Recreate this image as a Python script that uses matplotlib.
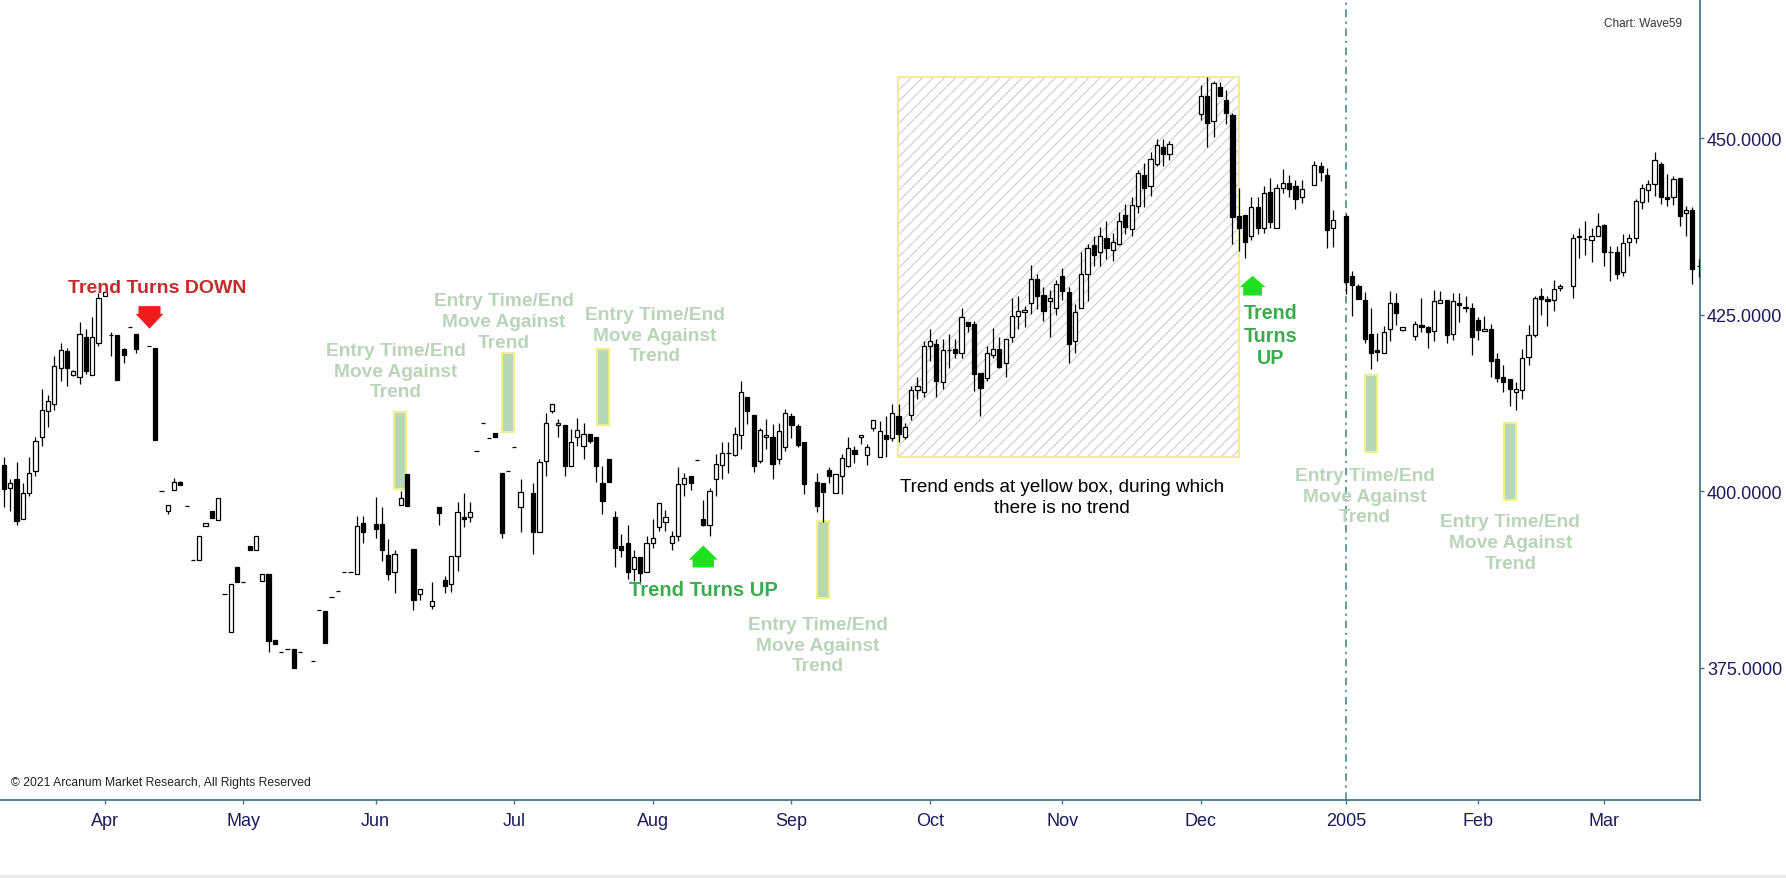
import numpy as np
import pandas as pd
import matplotlib
matplotlib.use('Agg')
import matplotlib.pyplot as plt
from matplotlib.patches import Rectangle, Polygon

plt.rcParams['font.family'] = ['Liberation Sans', 'DejaVu Sans']
plt.rcParams['hatch.linewidth'] = 0.8

# daily bars, one slot per weekday starting here (None = no bar that day)
start_date = '2004-03-10'

opens = [
    403.7, 400.4, 401.7, 396.1, 399.7, 402.8, 407.6, 411.3, 412.4, 417.5,
    419.9, 416.5, 416.1, 421.9, 416.5, 421.0, 427.7, 422.1, 422.1, 420.1,
    423.3, 422.2, None, 420.5, 420.3, 400.0, 397.2, 400.2, 401.3, 397.9,
    390.3, 390.3, 395.1, 397.2, 395.9, 385.5, 380.1, 389.2, 387.2, 392.2,
    391.6, 387.3, 388.2, 378.9, 377.2, 377.6, 377.6, 377.2, None, 376.0,
    383.1, 383.0, 385.0, 385.8, 388.5, 388.5, 388.2, 395.5, None, 395.3,
    395.3, 391.0, 388.5, 398.0, 402.4, 391.8, 385.5, None, 383.7, 397.7,
    387.4, 386.8, 390.8, 396.3, 396.3, 405.7, 409.6, 407.5, 408.3, 402.6,
    402.9, 406.2, 397.7, None, 399.7, 394.2, 404.2, 411.4, 409.3, 409.4,
    403.6, 407.6, 406.4, 408.1, 407.6, 401.2, 404.6, 396.4, 392.2, 392.6,
    389.0, 390.6, 388.5, 392.7, 394.9, 395.6, 392.7, 393.7, 401.0, 402.1,
    404.4, 396.0, 395.2, 401.7, 403.7, 405.4, 405.1, 408.0, 413.4, 410.8,
    404.2, 407.6, 407.7, 404.6, 406.2, 410.6, 409.2, 407.0, None, 401.3,
    401.1, 403.0, 399.8, 402.1, 403.6, 405.8, 407.6, 405.1, 409.0, 404.8,
    408.0, 407.5, 410.7, 407.7, 410.8, 414.3, 414.1, 420.5, 420.9, 415.5,
    420.0, 420.1, 419.6, 424.0, 423.7, 416.7, 416.0, 419.3, 420.2, 418.1,
    421.8, 424.8, 425.3, 426.6, 430.0, 427.8, 426.9, 425.9, 430.5, 428.2,
    421.3, 426.0, 430.7, 434.9, 433.8, 435.9, 434.2, 435.0, 439.1, 437.1,
    440.4, 444.8, 443.2, 446.4, 448.8, 447.8, None, None, None, None,
    453.4, 455.9, 452.4, 457.3, 455.4, 453.3, 438.9, 439.1, 436.2, 440.3,
    437.2, 442.3, 437.2, 443.0, 443.7, 443.2, 441.6, None, 443.4, 446.1,
    444.8, 437.2, None, 438.9, 430.5, 429.1, 427.0, 422.2, 420.0, 419.6,
    423.0, 426.6, 422.8, None, 422.0, 423.5, 423.2, 422.7, 426.7, 427.1,
    422.3, 426.7, 426.1, 426.0, 424.3, 422.7, 422.9, 418.7, 416.1, 415.9,
    414.1, 414.3, 419.0, 422.1, 427.6, 427.2, 427.1, 428.8, None, 429.0,
    436.0, 435.7, 435.5, 436.1, 437.7, 433.8, 433.8, 431.0, 435.3, 435.8,
    440.9, 442.7, 443.5, 446.4, 441.7, 441.7, 444.4, 439.4, 439.8, 431.9,
]

highs = [
    404.8, 401.7, 404.1, 401.1, 404.8, 407.6, 414.4, 413.6, 419.2, 421.0,
    420.3, 417.2, 424.0, 422.9, 424.6, 428.0, 428.2, 422.6, 422.1, 420.3,
    423.3, 422.2, None, 420.5, 420.3, 400.0, 398.0, 401.9, 401.5, 397.9,
    390.3, 393.6, 395.5, 397.2, 399.0, 385.5, 386.8, 389.2, 387.2, 392.2,
    393.6, 388.2, 388.2, 378.9, 377.2, 377.6, 377.6, 377.2, None, 376.0,
    383.1, 383.0, 385.0, 385.8, 388.5, 388.5, 396.5, 396.5, None, 399.1,
    397.7, 393.2, 391.6, 400.0, 402.4, 391.8, 386.1, None, 387.1, 397.7,
    388.0, 390.8, 398.4, 399.7, 398.4, 405.7, 409.6, 407.5, 408.3, 402.6,
    402.9, 406.2, 401.7, None, 401.2, 404.5, 411.1, 412.3, 410.2, 409.4,
    408.8, 410.4, 409.6, 408.1, 407.6, 403.6, 404.6, 397.2, 393.9, 395.2,
    391.6, 390.6, 393.7, 396.0, 398.3, 397.3, 394.4, 403.4, 402.6, 402.1,
    404.4, 398.7, 400.5, 405.2, 406.9, 406.9, 409.1, 415.6, 413.4, 410.8,
    409.0, 410.2, 409.5, 409.7, 411.7, 411.1, 409.5, 407.0, None, 402.5,
    401.1, 403.4, 402.4, 405.3, 407.7, 406.4, 408.0, 406.7, 410.1, 410.0,
    410.6, 412.3, 412.3, 409.7, 414.9, 416.2, 421.3, 423.0, 421.5, 421.5,
    422.2, 421.5, 426.0, 424.0, 424.1, 416.7, 420.5, 423.1, 421.8, 421.6,
    427.3, 427.6, 426.2, 432.0, 430.7, 428.9, 428.5, 429.9, 431.6, 428.9,
    426.5, 433.9, 435.0, 436.2, 437.4, 438.3, 436.6, 439.5, 440.7, 441.6,
    445.5, 446.5, 448.0, 449.9, 449.9, 449.6, None, None, None, None,
    457.5, 458.6, 458.1, 458.0, 456.8, 453.6, 443.0, 439.1, 441.6, 441.6,
    443.2, 444.4, 443.5, 445.6, 444.8, 444.1, 444.1, None, 446.8, 446.6,
    445.7, 439.8, None, 439.2, 431.2, 429.3, 428.2, 425.9, 422.4, 423.4,
    428.3, 428.0, 423.3, None, 424.1, 427.3, 423.4, 428.5, 428.3, 427.1,
    428.1, 428.1, 427.6, 426.6, 424.7, 424.8, 423.6, 419.5, 417.8, 415.9,
    415.4, 420.2, 423.5, 427.7, 428.7, 427.7, 429.9, 429.4, None, 436.4,
    437.3, 438.2, 437.3, 439.4, 437.8, 434.7, 434.7, 436.4, 436.4, 441.4,
    443.5, 444.0, 448.0, 446.6, 444.9, 444.7, 444.4, 440.4, 440.2, 432.9,
]

lows = [
    397.7, 397.2, 395.2, 396.0, 399.3, 402.1, 406.4, 409.1, 411.5, 415.6,
    414.9, 416.3, 415.2, 416.6, 416.5, 420.6, 427.7, 419.2, 415.8, 418.1,
    423.3, 419.6, None, 420.5, 407.3, 400.0, 396.8, 400.2, 400.9, 397.9,
    390.3, 390.3, 395.1, 396.2, 395.9, 385.5, 380.1, 387.2, 387.2, 391.6,
    391.6, 387.3, 377.2, 378.3, 377.2, 377.6, 375.0, 377.2, None, 376.0,
    383.1, 378.5, 385.0, 385.8, 388.5, 388.5, 388.2, 392.7, None, 393.3,
    390.1, 387.4, 385.6, 398.0, 397.9, 383.1, 384.6, None, 383.3, 395.2,
    385.6, 385.7, 388.7, 394.9, 395.6, 405.7, 409.6, 407.5, 407.6, 393.4,
    402.9, 406.2, 394.2, None, 391.1, 394.2, 402.1, 411.0, 407.6, 402.2,
    403.6, 406.4, 404.6, 406.8, 401.3, 396.7, 401.3, 389.2, 390.6, 387.5,
    387.3, 386.8, 388.5, 392.0, 394.4, 394.4, 391.7, 393.0, 399.3, 400.1,
    404.4, 395.1, 393.6, 399.3, 401.7, 402.6, 405.0, 405.9, 409.5, 402.7,
    404.0, 405.9, 401.7, 403.8, 405.7, 407.5, 406.2, 399.6, None, 397.1,
    395.6, 401.2, 399.7, 399.6, 403.4, 404.0, 406.7, 403.7, 408.5, 404.8,
    404.8, 407.1, 406.9, 407.4, 410.1, 413.0, 413.4, 418.5, 413.4, 414.4,
    417.5, 418.8, 418.9, 422.5, 414.2, 410.6, 415.6, 418.8, 417.5, 416.1,
    421.1, 423.0, 423.2, 425.1, 425.8, 424.1, 421.8, 424.9, 427.0, 418.2,
    419.5, 425.9, 426.9, 431.9, 431.9, 432.9, 432.6, 434.8, 436.4, 436.2,
    439.4, 440.2, 441.8, 446.1, 446.1, 446.9, None, None, None, None,
    452.5, 448.7, 450.1, 455.9, 452.0, 435.0, 434.0, 433.0, 435.5, 436.4,
    436.5, 437.2, 437.2, 442.2, 441.6, 439.9, 440.8, None, 443.4, 443.9,
    434.4, 434.6, None, 427.9, 424.8, 427.2, 421.0, 417.3, 418.5, 419.6,
    421.2, 423.5, 422.7, None, 421.4, 422.6, 420.3, 421.3, 426.7, 421.0,
    421.4, 424.0, 425.4, 419.3, 421.4, 422.7, 416.2, 415.5, 414.1, 412.1,
    411.5, 413.1, 417.8, 421.9, 425.0, 423.4, 425.5, 428.3, None, 427.4,
    433.0, 433.4, 432.5, 436.1, 431.9, 429.8, 430.0, 430.5, 433.3, 435.2,
    439.9, 440.9, 441.8, 440.6, 440.4, 440.5, 437.6, 436.1, 429.3, 430.3,
]

closes = [
    400.3, 401.1, 395.7, 399.7, 402.6, 407.1, 411.5, 412.8, 417.7, 420.0,
    417.5, 417.0, 422.2, 417.0, 421.8, 427.3, 428.2, 422.1, 415.8, 419.3,
    423.3, 420.1, None, 420.5, 407.3, 400.0, 398.0, 401.3, 400.9, 397.9,
    390.3, 393.6, 395.5, 396.2, 399.0, 385.5, 386.8, 387.2, 387.2, 391.6,
    393.6, 388.2, 378.8, 378.3, 377.2, 377.6, 375.0, 377.2, None, 376.0,
    383.1, 378.5, 385.0, 385.8, 388.5, 388.5, 395.0, 394.2, None, 394.7,
    391.7, 388.2, 391.1, 399.0, 397.9, 384.6, 386.1, None, 384.4, 396.9,
    386.6, 390.8, 397.1, 396.0, 397.0, 405.7, 409.6, 407.5, 407.6, 394.1,
    402.9, 406.2, 399.9, None, 394.2, 404.1, 409.6, 412.3, 409.7, 403.6,
    407.0, 408.7, 408.1, 407.1, 403.5, 398.6, 401.3, 391.9, 391.7, 388.5,
    390.6, 388.4, 392.6, 393.3, 398.3, 396.4, 393.6, 401.0, 401.8, 401.1,
    404.4, 395.2, 400.0, 403.9, 405.4, 405.4, 408.1, 414.1, 411.4, 403.6,
    408.6, 408.0, 403.8, 408.5, 411.0, 409.4, 406.5, 401.0, None, 397.9,
    399.9, 402.1, 402.4, 404.7, 406.1, 405.3, 408.0, 406.2, 410.1, 408.5,
    407.4, 411.1, 408.1, 409.1, 414.3, 414.9, 420.5, 421.2, 415.6, 420.0,
    420.0, 419.5, 424.6, 423.4, 416.6, 414.6, 419.5, 420.2, 417.6, 421.6,
    424.8, 425.5, 425.6, 430.0, 427.6, 425.5, 427.4, 429.4, 428.3, 420.9,
    425.4, 430.7, 434.4, 433.4, 436.2, 434.5, 435.3, 438.3, 437.4, 440.5,
    445.1, 442.9, 447.0, 449.0, 447.8, 449.2, None, None, None, None,
    455.9, 452.2, 457.8, 455.9, 453.6, 438.8, 437.2, 435.3, 440.3, 437.2,
    442.2, 438.1, 442.9, 443.6, 442.8, 441.4, 442.8, None, 446.2, 445.2,
    437.0, 438.4, None, 429.6, 429.2, 427.2, 421.6, 419.5, 419.7, 422.5,
    426.6, 425.2, 423.3, None, 423.6, 423.3, 422.6, 426.9, 427.1, 422.1,
    426.9, 426.3, 425.9, 421.9, 422.8, 423.0, 418.5, 416.0, 415.5, 414.4,
    414.5, 418.8, 422.1, 427.3, 427.2, 426.9, 428.6, 429.0, None, 435.8,
    436.1, 435.7, 436.1, 437.6, 433.9, 433.8, 430.8, 435.1, 435.8, 441.1,
    442.9, 443.5, 446.9, 441.6, 441.4, 444.2, 439.0, 439.8, 431.4, 431.9,
]

y_ticks = [375, 400, 425, 450]

# annotation boxes: (bar index centre, low, high)
entry_boxes = [(62.9, 400.3, 411.2), (80.0, 408.4, 419.5), (95.1, 409.3, 420.2),
               (130.0, 384.8, 395.8), (217.0, 405.6, 416.4), (239.0, 398.7, 409.7)]
entry_labels = [(62.2, 417.0), (79.3, 424.0), (103.3, 422.1),
                (129.2, 378.2), (216.0, 399.3), (239.1, 392.7)]

o = np.array(opens, dtype=float)
h = np.array(highs, dtype=float)
l = np.array(lows, dtype=float)
c = np.array(closes, dtype=float)
n = len(o)
x = np.arange(n)
dates = pd.bdate_range(start_date, periods=n)

navy = '#1b1b5e'
spine_col = '#46788a'

fig = plt.figure(figsize=(17.86, 8.79), dpi=100)
ax = fig.add_axes([0, 0.0891, 0.9518, 0.9109])

ok = ~np.isnan(o)
up = ok & (c >= o)
dn = ok & (c < o)
ax.vlines(x[ok], l[ok], h[ok], color='black', linewidth=0.9, zorder=3)
ax.bar(x[up], (c - o)[up], bottom=o[up], width=0.66, facecolor='white',
       edgecolor='black', linewidth=0.9, zorder=4)
ax.bar(x[dn], (o - c)[dn], bottom=c[dn], width=0.66, facecolor='black',
       edgecolor='black', linewidth=0.9, zorder=4)

# yellow "no trend" box
bx0, bx1, blo, bhi = 141.95, 196.1, 404.8, 458.6
ax.add_patch(Rectangle((bx0, blo), bx1 - bx0, bhi - blo, facecolor='white',
                       edgecolor='#cdcdcd', hatch='///', linewidth=0, zorder=1))
ax.add_patch(Rectangle((bx0, blo), bx1 - bx0, bhi - blo, fill=False,
                       edgecolor='#f2eb98', linewidth=1.5, zorder=2))
ax.text(167.9, 399.2, 'Trend ends at yellow box, during which\nthere is no trend',
        ha='center', va='center', fontsize=13.6, color='black', linespacing=1.3)

# entry boxes + labels
for (xc, lo, hi) in entry_boxes:
    ax.add_patch(Rectangle((xc - 0.95, lo), 1.9, hi - lo, facecolor='#b8d6b8',
                           edgecolor='#f0f08a', linewidth=1.5, zorder=2))
for (xt, yt) in entry_labels:
    ax.text(xt, yt, 'Entry Time/End\nMove Against\nTrend', ha='center', va='center',
            fontsize=13.8, fontweight='bold', color='#bad4ba', linespacing=1.3, zorder=5)


def arrow(xc, tip, mid, end, ht, hr, color):
    pts = [(xc - hr, end), (xc - hr, mid), (xc - ht, mid), (xc, tip),
           (xc + ht, mid), (xc + hr, mid), (xc + hr, end)]
    ax.add_patch(Polygon(pts, closed=True, facecolor=color, edgecolor='none', zorder=5))


arrow(23.1, 423.0, 425.1, 426.2, 2.2, 1.75, '#ee1c1c')
arrow(111.0, 392.3, 390.3, 389.2, 2.3, 1.7, '#1ee01e')
arrow(198.2, 430.5, 428.9, 427.7, 2.05, 1.5, '#1ee01e')

ax.text(24.3, 428.9, 'Trend Turns DOWN', ha='center', va='center', fontsize=14,
        fontweight='bold', color='#c62b2b', zorder=5)
ax.text(111.1, 386.1, 'Trend Turns UP', ha='center', va='center', fontsize=14.5,
        fontweight='bold', color='#3daa4d', zorder=5)
ax.text(201.0, 422.1, 'Trend\nTurns\nUP', ha='center', va='center', fontsize=14.2,
        fontweight='bold', color='#3daa4d', linespacing=1.25, zorder=5)

# month ticks
tick_pos, tick_lab = [], []
for i in range(1, n):
    if dates[i].month != dates[i - 1].month:
        tick_pos.append(i)
        tick_lab.append(str(dates[i].year) if dates[i].month == 1 else dates[i].strftime('%b'))
        if dates[i].month == 1:
            ax.axvline(i, color='#3a7f84', linewidth=1.1, linestyle=(0, (5, 3, 1.5, 3)), zorder=2)

ax.set_xticks(tick_pos)
ax.set_xticklabels(tick_lab)
ax.set_yticks(y_ticks)
ax.set_yticklabels([f'{v:.4f}' for v in y_ticks])
ax.yaxis.tick_right()
ax.set_xlim(-0.63, 269.2)
ax.set_ylim(356.3, 469.7)

for s in ['top', 'left']:
    ax.spines[s].set_visible(False)
for s in ['right', 'bottom']:
    ax.spines[s].set_color(spine_col)
    ax.spines[s].set_linewidth(1.3)
ax.tick_params(axis='x', direction='out', length=3, width=1, color=spine_col,
               labelsize=13, labelcolor=navy, pad=6)
ax.tick_params(axis='y', direction='out', length=3, width=1, color=spine_col,
               labelsize=13, labelcolor=navy, pad=2)

fig.text(0.0062, 0.109, '\u00a9 2021 Arcanum Market Research, All Rights Reserved',
         fontsize=8.7, va='center', color='#222222')
fig.text(0.9418, 0.973, 'Chart: Wave59', ha='right', va='center', fontsize=8.5, color='#333333')
fig.patches.append(Rectangle((0, 0), 1, 0.003, transform=fig.transFigure,
                             facecolor='#ececec', edgecolor='none'))

fig.savefig('out.png', dpi=100)
